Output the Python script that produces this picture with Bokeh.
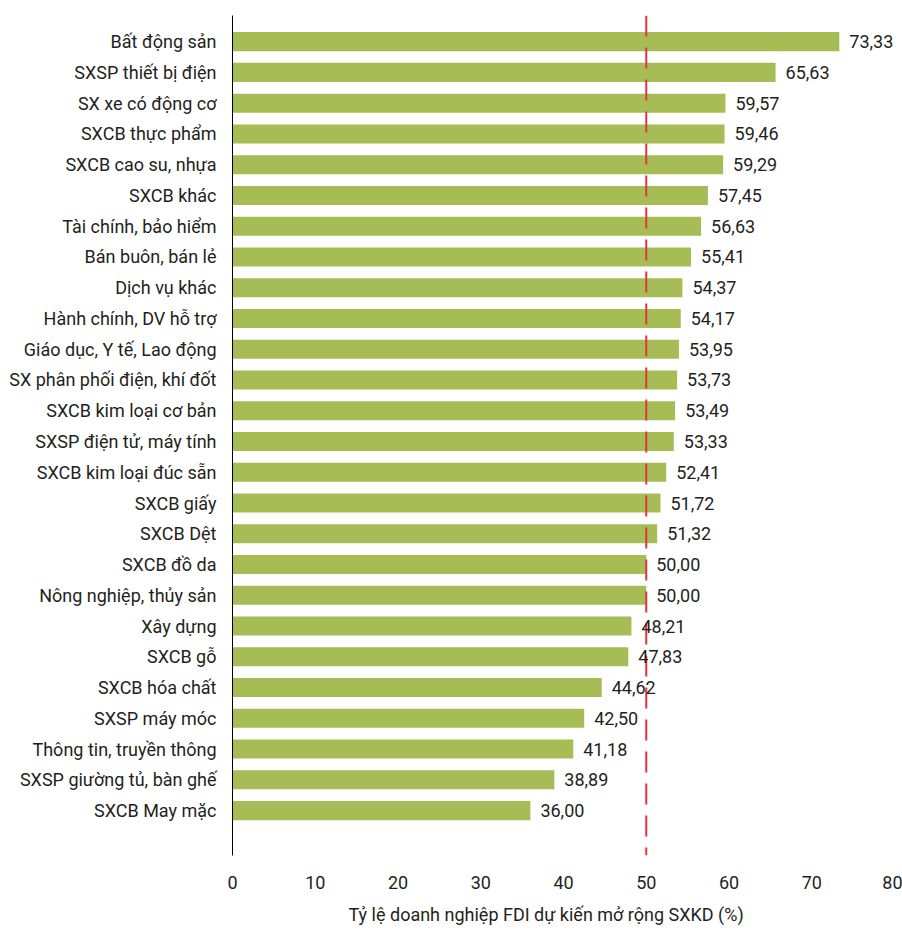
from bokeh.plotting import figure
from bokeh.models import Range1d, ColumnDataSource, LabelSet, Span, FixedTicker, LinearAxis, Title
from bokeh.core.properties import value
from bokeh.embed import file_html
from bokeh.resources import INLINE

categories = [
    "Bất động sản", "SXSP thiết bị điện", "SX xe có động cơ", "SXCB thực phẩm",
    "SXCB cao su, nhựa", "SXCB khác", "Tài chính, bảo hiểm", "Bán buôn, bán lẻ",
    "Dịch vụ khác", "Hành chính, DV hỗ trợ", "Giáo dục, Y tế, Lao động",
    "SX phân phối điện, khí đốt", "SXCB kim loại cơ bản", "SXSP điện tử, máy tính",
    "SXCB kim loại đúc sẵn", "SXCB giấy", "SXCB Dệt", "SXCB đồ da",
    "Nông nghiệp, thủy sản", "Xây dựng", "SXCB gỗ", "SXCB hóa chất",
    "SXSP máy móc", "Thông tin, truyền thông", "SXSP giường tủ, bàn ghế", "SXCB May mặc",
]
values = [73.33, 65.63, 59.57, 59.46, 59.29, 57.45, 56.63, 55.41, 54.37, 54.17,
          53.95, 53.73, 53.49, 53.33, 52.41, 51.72, 51.32, 50.00, 50.00, 48.21,
          47.83, 44.62, 42.50, 41.18, 38.89, 36.00]
x_ticks = [0, 10, 20, 30, 40, 50, 60, 70, 80]
threshold = 50
x_title = "Tỷ lệ doanh nghiệp FDI dự kiến mở rộng SXKD (%)"

FONT = "Roboto"
FS = "18px"
TXT = "#231f20"

pos = list(range(len(categories)))
labels = [f"{v:.2f}".replace(".", ",") for v in values]
src = ColumnDataSource(dict(y=pos, v=values, lab=labels))

p = figure(width=902, height=941, output_backend="svg", toolbar_location=None,
           x_range=Range1d(0, 80), y_range=Range1d(len(categories) - 1 + 1.46, -0.85),
           min_border_left=232, min_border_right=8, min_border_top=15, min_border_bottom=86,
           x_axis_location=None, y_axis_location=None)
p.outline_line_color = None
p.grid.visible = False

p.hbar(y="y", right="v", left=0, height=0.62, source=src, color="#a6bd55", line_color=None)

p.add_layout(Span(location=threshold, dimension="height", line_color="#e8323c",
                  line_width=2, line_dash="21 11"))

p.add_layout(LabelSet(x="v", y="y", text="lab", source=src, x_offset=10,
                      text_baseline="middle", text_align="left",
                      text_font=value(FONT), text_font_size=value(FS), text_color=TXT))

# y axis
ya = LinearAxis(ticker=FixedTicker(ticks=pos),
                major_label_overrides={i: c for i, c in enumerate(categories)})
ya.axis_line_color = "black"
ya.axis_line_width = 1
ya.major_tick_line_color = None
ya.minor_tick_line_color = None
ya.major_tick_out = 0
ya.major_tick_in = 0
ya.major_label_standoff = 16
ya.major_label_text_font = FONT
ya.major_label_text_font_size = FS
ya.major_label_text_color = TXT
p.add_layout(ya, "left")

# x axis
xa = LinearAxis(ticker=FixedTicker(ticks=x_ticks))
xa.axis_line_color = None
xa.major_tick_line_color = None
xa.minor_tick_line_color = None
xa.major_tick_out = 0
xa.major_tick_in = 0
xa.major_label_standoff = 20
xa.major_label_text_font = FONT
xa.major_label_text_font_size = FS
xa.major_label_text_color = TXT
p.add_layout(xa, "below")

t = Title(text=x_title, align="left", offset=116, standoff=21,
          text_font=FONT, text_font_style="normal", text_font_size=FS, text_color=TXT)
p.add_layout(t, "below")

open("out.html", "w").write(file_html(p, INLINE))
